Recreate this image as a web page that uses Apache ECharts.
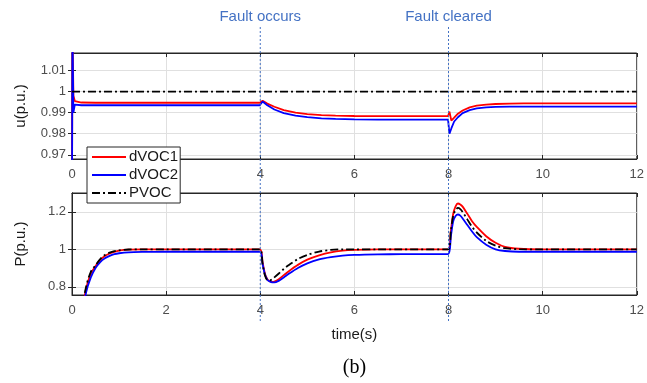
<!DOCTYPE html>
<html>
<head>
<meta charset="utf-8">
<script src="https://cdn.jsdelivr.net/npm/echarts@6/dist/echarts.min.js"></script>
<style>html,body{margin:0;padding:0;background:#fff}#c{width:647px;height:383px}</style>
</head>
<body>
<div id="c"></div>
<script>
// ---- Data ----
const seriesNames = ['dVOC1', 'dVOC2', 'PVOC'];
const xTicks = [0, 2, 4, 6, 8, 10, 12];
const uTicks = [0.97, 0.98, 0.99, 1, 1.01];
const pTicks = [0.8, 1, 1.2];
const faultTimes = [4, 8];
const faultLabels = ['Fault occurs', 'Fault cleared'];

// top panel: voltage u (p.u.)
const tU = [0, 0.01, 0.03, 0.06, 0.1, 0.2, 0.5, 1, 2, 3, 3.99, 4.05, 4.15, 4.3, 4.5, 4.75, 5, 5.3, 5.6, 6, 6.5, 7, 7.99, 8.02, 8.06, 8.12, 8.2, 8.3, 8.45, 8.6, 8.8, 9, 9.3, 9.6, 10, 11, 12];
const uDVOC1 = [0.95, 1.03, 0.998, 0.9955, 0.995, 0.9948, 0.9947, 0.9947, 0.9947, 0.9947, 0.9947, 0.9956, 0.9943, 0.9928, 0.9912, 0.9900, 0.9893, 0.9888, 0.9886, 0.9884, 0.9883, 0.9883, 0.9883, 0.9905, 0.9862, 0.9876, 0.9895, 0.9910, 0.9925, 0.9933, 0.9938, 0.9941, 0.9943, 0.9944, 0.9944, 0.9944, 0.9944];
const uDVOC2 = [0.95, 1.03, 0.990, 0.9938, 0.9936, 0.9935, 0.9935, 0.9935, 0.9935, 0.9935, 0.9935, 0.9953, 0.9935, 0.9915, 0.9898, 0.9886, 0.9879, 0.9873, 0.9870, 0.9868, 0.9867, 0.9867, 0.9867, 0.9800, 0.9825, 0.9858, 0.9878, 0.9898, 0.9912, 0.9920, 0.9925, 0.9927, 0.9929, 0.9929, 0.9929, 0.9929, 0.9929];
const uPVOC = [1, 1, 1, 1, 1, 1, 1, 1, 1, 1, 1, 1, 1, 1, 1, 1, 1, 1, 1, 1, 1, 1, 1, 1, 1, 1, 1, 1, 1, 1, 1, 1, 1, 1, 1, 1, 1];

// bottom panel: active power P (p.u.)
const tP = [0, 0.1, 0.2, 0.3, 0.4, 0.5, 0.6, 0.7, 0.8, 0.9, 1, 1.2, 1.5, 2, 3, 3.99, 4.05, 4.1, 4.15, 4.2, 4.25, 4.3, 4.4, 4.5, 4.6, 4.8, 5, 5.25, 5.5, 5.75, 6, 6.5, 7, 7.99, 8.05, 8.1, 8.15, 8.2, 8.25, 8.3, 8.4, 8.5, 8.6, 8.8, 9, 9.2, 9.5, 10, 11, 12];
const pDVOC1 = [0, 0.40, 0.64, 0.79, 0.87, 0.91, 0.945, 0.965, 0.978, 0.987, 0.993, 0.998, 1, 1, 1, 1, 0.93, 0.87, 0.84, 0.829, 0.826, 0.828, 0.842, 0.862, 0.882, 0.917, 0.945, 0.968, 0.984, 0.993, 0.997, 1, 1, 1, 1.10, 1.19, 1.23, 1.245, 1.24, 1.228, 1.19, 1.15, 1.12, 1.07, 1.035, 1.013, 1.003, 1, 1, 1];
const pDVOC2 = [0, 0.38, 0.62, 0.77, 0.85, 0.90, 0.932, 0.952, 0.965, 0.974, 0.979, 0.984, 0.986, 0.987, 0.987, 0.987, 0.92, 0.865, 0.838, 0.828, 0.824, 0.823, 0.833, 0.850, 0.868, 0.900, 0.925, 0.946, 0.958, 0.966, 0.970, 0.973, 0.974, 0.974, 1.07, 1.15, 1.178, 1.186, 1.18, 1.165, 1.13, 1.095, 1.065, 1.025, 1.0, 0.991, 0.987, 0.987, 0.987, 0.987];
const pPVOC = [0, 0.42, 0.66, 0.80, 0.88, 0.915, 0.948, 0.97, 0.982, 0.99, 0.995, 0.999, 1, 1, 1, 1, 0.92, 0.86, 0.836, 0.834, 0.84, 0.85, 0.872, 0.895, 0.915, 0.948, 0.97, 0.988, 0.997, 1, 1, 1, 1, 1, 1.10, 1.18, 1.21, 1.221, 1.215, 1.20, 1.16, 1.12, 1.09, 1.045, 1.02, 1.006, 1.001, 1, 1, 1];

// ---- Chart ----
const pair = (t, v) => t.map((x, i) => [x, v[i]]);
const chart = echarts.init(document.getElementById('c'), null, {renderer: 'canvas'});
const colors = ['#ff0000', '#0000ff', '#000000'];
const dashDot = [8, 3, 2, 3];
const labelStyle = {color: '#4d4d4d', fontSize: 13, fontFamily: 'Liberation Sans, Arial'};
const nameStyle = {color: '#1a1a1a', fontSize: 15, fontFamily: 'Liberation Sans, Arial'};
const axisLineStyle = {lineStyle: {color: '#262626', width: 1}};
const gridLine = {show: true, lineStyle: {color: '#e0e0e0', width: 1}};

function xAxisPair(gridIndex, showLabels, name) {
  return [
    {type: 'value', gridIndex, position: 'bottom', min: 0, max: 12,
     axisLine: axisLineStyle,
     axisTick: {inside: true, length: 4, customValues: xTicks, lineStyle: {color: '#262626'}},
     axisLabel: {show: showLabels, customValues: xTicks, margin: 9, ...labelStyle},
     splitLine: gridLine,
     name: name || '', nameLocation: 'middle', nameGap: 32, nameTextStyle: nameStyle},
    {type: 'value', gridIndex, position: 'top', min: 0, max: 12,
     axisLine: axisLineStyle,
     axisTick: {inside: true, length: 4, customValues: xTicks, lineStyle: {color: '#262626'}},
     axisLabel: {show: false, customValues: xTicks}, splitLine: {show: false}}
  ];
}
function yAxisPair(gridIndex, min, max, ticks, name) {
  return [
    {type: 'value', gridIndex, position: 'left', min, max,
     axisLine: axisLineStyle,
     axisTick: {inside: true, length: 4, customValues: ticks, lineStyle: {color: '#262626'}},
     axisLabel: {customValues: ticks, margin: 6, ...labelStyle},
     splitLine: gridLine,
     name, nameLocation: 'middle', nameGap: 44, nameTextStyle: nameStyle},
    {type: 'value', gridIndex, position: 'right', min, max,
     axisLine: axisLineStyle,
     axisTick: {inside: true, length: 4, customValues: ticks, lineStyle: {color: '#262626'}},
     axisLabel: {show: false, customValues: ticks}, splitLine: {show: false}}
  ];
}

const series = [];
const topVals = [uDVOC1, uDVOC2, uPVOC];
const botVals = [pDVOC1, pDVOC2, pPVOC];
seriesNames.forEach((n, i) => {
  series.push({name: n, type: 'line', xAxisIndex: 0, yAxisIndex: 0, data: pair(tU, topVals[i]),
    symbol: 'none', smooth: false, z: 2 + i, animation: false,
    lineStyle: {color: colors[i], width: 1.8, type: i === 2 ? dashDot : 'solid'}, itemStyle: {color: colors[i]}});
});
seriesNames.forEach((n, i) => {
  series.push({name: n, type: 'line', xAxisIndex: 2, yAxisIndex: 2, data: pair(tP, botVals[i]),
    symbol: 'none', smooth: 0.3, z: 2 + i, animation: false,
    lineStyle: {color: colors[i], width: 1.8, type: i === 2 ? dashDot : 'solid'}, itemStyle: {color: colors[i]}});
});

chart.setOption({
  animation: false,
  backgroundColor: '#ffffff',
  grid: [
    {left: 72, right: 9, top: 53, height: 106, show: true, borderColor: '#262626', borderWidth: 1, backgroundColor: 'transparent'},
    {left: 72, right: 9, top: 193, height: 102, show: true, borderColor: '#262626', borderWidth: 1, backgroundColor: 'transparent'}
  ],
  xAxis: [...xAxisPair(0, true), ...xAxisPair(1, true, 'time(s)')],
  yAxis: [...yAxisPair(0, 0.968, 1.0183, uTicks, 'u(p.u.)'), ...yAxisPair(1, 0.756, 1.301, pTicks, 'P(p.u.)')],
  legend: {
    data: seriesNames, orient: 'vertical', left: 87, top: 147,
    backgroundColor: '#ffffff', borderColor: '#262626', borderWidth: 1,
    padding: [2, 2, 2, 4], itemGap: 2, itemWidth: 34, itemHeight: 12,
    itemStyle: {opacity: 0},
    textStyle: {color: '#1a1a1a', fontSize: 15, fontFamily: 'Liberation Sans, Arial', padding: [0, 0, 0, -2], lineHeight: 16},
    z: 10
  },
  series
});

// annotations placed through the axis scale
const yTop = 27, yBot = 323;
const graphics = [];
faultTimes.forEach((t, i) => {
  const px = chart.convertToPixel({xAxisIndex: 0}, t);
  graphics.push({type: 'line', shape: {x1: px, y1: yTop, x2: px, y2: yBot}, z: 20,
    style: {stroke: '#4472c4', lineWidth: 1, lineDash: [2, 2]}});
  graphics.push({type: 'text', x: px, y: 17, z: 20,
    style: {text: faultLabels[i], fill: '#4472c4', fontSize: 15, fontFamily: 'Liberation Sans, Arial', align: 'center', verticalAlign: 'middle'}});
});
const cx = chart.convertToPixel({xAxisIndex: 2}, 6);
graphics.push({type: 'text', x: cx, y: 368, z: 20,
  style: {text: '(b)', fill: '#000', fontSize: 20, fontFamily: 'Liberation Serif, Times New Roman', align: 'center', verticalAlign: 'middle'}});
chart.setOption({graphic: graphics});
</script>
</body>
</html>
